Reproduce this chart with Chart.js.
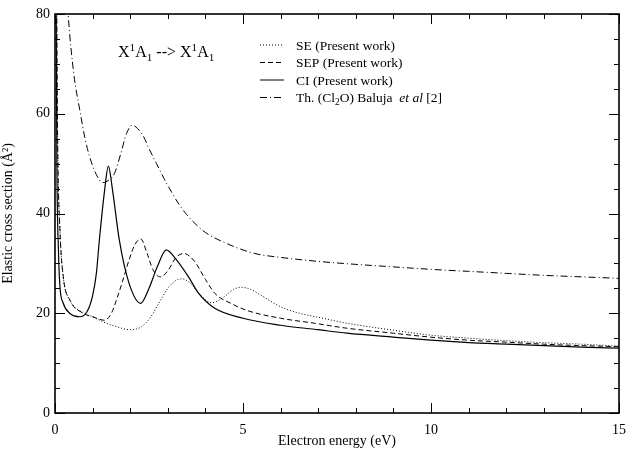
<!DOCTYPE html>
<html>
<head>
<title>Elastic cross section</title>
<script src="https://cdn.jsdelivr.net/npm/chart.js"></script>
<style>
  body { margin: 0; background: #fff; }
  #wrap { width: 635px; height: 451px; }
</style>
</head>
<body>
<div id="wrap"><canvas id="xsec"></canvas></div>
<script>
// values: energy (eV) -> cross section (A^2)
const seE  = [0.03, 0.07, 0.13, 0.22, 0.4, 0.75, 1.0, 1.3, 1.6, 2.0, 2.3, 2.55, 2.76, 3.0, 3.2, 3.38, 3.6, 3.85, 4.17, 4.5, 4.75, 4.95, 5.2, 5.5, 6.0, 6.5, 7, 7.76, 9, 10, 11, 12, 13, 14, 15];
const seY  = [100, 55, 37, 27.3, 22.6, 20.1, 19.3, 18.2, 17.4, 16.7, 17.3, 19.3, 22, 25, 26.5, 26.9, 26.0, 23.8, 22.1, 23.3, 24.8, 25.2, 24.8, 23.5, 21.3, 20.0, 19.2, 18.0, 16.6, 15.6, 15.0, 14.5, 14.1, 13.8, 13.4];

const sepE = [0.03, 0.07, 0.13, 0.22, 0.4, 0.75, 1.0, 1.32, 1.5, 1.65, 1.8, 1.97, 2.12, 2.28, 2.45, 2.6, 2.8, 3.0, 3.2, 3.42, 3.7, 4.0, 4.25, 4.7, 5.13, 6, 6.9, 7.76, 9, 10, 11, 12, 13, 14, 15];
const sepY = [100, 55, 37, 27.3, 22.6, 20, 19.3, 18.6, 20, 23, 26.5, 30.7, 33.7, 34.9, 32, 28.8, 27.3, 28.5, 31, 32, 30.5, 26.8, 24, 21.9, 20.5, 19, 18, 17, 16, 15.2, 14.6, 14.2, 13.8, 13.5, 13.3];

const ciE  = [0.02, 0.05, 0.09, 0.13, 0.22, 0.39, 0.66, 0.85, 1.0, 1.1, 1.18, 1.32, 1.42, 1.53, 1.71, 1.97, 2.28, 2.5, 2.72, 2.96, 3.2, 3.55, 3.82, 4.25, 5, 6, 7, 7.76, 9, 10, 11, 12, 13, 14, 15];
const ciY  = [100, 50, 33, 25.5, 22, 20, 19.3, 20.3, 23.5, 28, 34.7, 44.7, 49.5, 44.7, 34.7, 26, 22, 25, 29.3, 32.7, 31, 27.3, 24, 21, 19, 17.6, 16.7, 16.0, 15.2, 14.6, 14.1, 13.8, 13.5, 13.2, 13.0];

const thE  = [0.28, 0.35, 0.5, 0.66, 0.8, 0.92, 1.1, 1.27, 1.45, 1.58, 1.75, 1.9, 2.06, 2.2, 2.35, 2.5, 2.7, 2.9, 3.1, 3.3, 3.5, 3.75, 4.0, 4.5, 5.3, 6, 7, 8, 9, 10, 11, 12, 13, 14, 15];
const thY  = [90, 80, 68, 60.7, 55, 51.4, 47.8, 46.2, 46.8, 48, 52, 56, 57.7, 57, 55.5, 53, 50, 47, 44.3, 41.8, 39.8, 37.8, 36.2, 34.2, 32, 31.2, 30.4, 29.8, 29.3, 28.8, 28.4, 28.0, 27.6, 27.3, 27.0];

const xTicks = [0, 5, 10, 15];
const yTicks = [0, 20, 40, 60, 80];
const xMinorStep = 1;
const yMinorStep = 5;

const FONT = "'Liberation Serif', 'Times New Roman', serif";
const DOT = [1, 2], DASH = [5, 3], DASHDOT = [7, 3, 1, 3];

function pts(xs, ys) {
    return xs.map((v, i) => ({ x: v, y: ys[i] }));
}

// draw a run of text pieces: [text, kind] with kind n / sup / sub / i
function richText(ctx, x, y, parts, size) {
    parts.forEach(([t, kind]) => {
        let s = size, dy = 0, style = '';
        if (kind === 'sup') { s = size * 0.7; dy = -size * 0.4; }
        if (kind === 'sub') { s = size * 0.7; dy = size * 0.25; }
        if (kind === 'i') style = 'italic ';
        ctx.font = style + s + 'px ' + FONT;
        ctx.fillText(t, x, y + dy);
        x += ctx.measureText(t).width;
    });
}

const legendRows = [
    { dash: DOT, parts: [['SE (Present work)', 'n']] },
    { dash: DASH, parts: [['SEP (Present work)', 'n']] },
    { dash: [], parts: [['CI (Present work)', 'n']] },
    { dash: DASHDOT, parts: [['Th. (Cl', 'n'], ['2', 'sub'], ['O) Baluja  ', 'n'], ['et al', 'i'], [' [2]', 'n']] }
];

const decor = {
    id: 'decor',
    afterDraw(chart) {
        const { ctx, chartArea: a, scales: { x, y } } = chart;
        ctx.save();
        ctx.strokeStyle = '#000';
        ctx.lineWidth = 1;
        ctx.setLineDash([]);
        // inward ticks on all four sides
        ctx.beginPath();
        for (let v = 0; v <= 15; v += xMinorStep) {
            const px = Math.round(x.getPixelForValue(v)) + 0.5;
            const len = xTicks.includes(v) ? 10 : 5;
            ctx.moveTo(px, a.bottom); ctx.lineTo(px, a.bottom - len);
            ctx.moveTo(px, a.top); ctx.lineTo(px, a.top + len);
        }
        for (let v = 0; v <= 80; v += yMinorStep) {
            const py = Math.round(y.getPixelForValue(v)) + 0.5;
            const len = yTicks.includes(v) ? 10 : 5;
            ctx.moveTo(a.left, py); ctx.lineTo(a.left + len, py);
            ctx.moveTo(a.right, py); ctx.lineTo(a.right - len, py);
        }
        ctx.stroke();
        ctx.lineWidth = 1.6;
        ctx.strokeRect(a.left, a.top, a.width, a.height);

        ctx.fillStyle = '#000';
        ctx.textBaseline = 'alphabetic';
        // state label
        richText(ctx, a.left + 63, a.top + 43,
            [['X', 'n'], ['1', 'sup'], ['A', 'n'], ['1', 'sub'], [' --> X', 'n'], ['1', 'sup'], ['A', 'n'], ['1', 'sub']], 16);

        // legend
        legendRows.forEach((r, i) => {
            const cy = a.top + 31 + i * 17.5;
            ctx.lineWidth = 1;
            ctx.setLineDash(r.dash);
            ctx.beginPath();
            ctx.moveTo(260, cy); ctx.lineTo(284, cy);
            ctx.stroke();
            ctx.setLineDash([]);
            richText(ctx, 296, cy + 4.5, r.parts, 13.5);
        });
        ctx.restore();
    }
};

function line(label, xs, ys, dash, width) {
    return {
        label: label,
        data: pts(xs, ys),
        borderColor: '#000',
        borderWidth: width,
        borderDash: dash,
        pointRadius: 0,
        fill: false,
        cubicInterpolationMode: 'monotone'
    };
}

new Chart(document.getElementById('xsec'), {
    type: 'line',
    data: {
        datasets: [
            line('SE (Present work)', seE, seY, DOT, 1),
            line('SEP (Present work)', sepE, sepY, DASH, 1),
            line('CI (Present work)', ciE, ciY, [], 1.2),
            line('Th. (Cl2O) Baluja et al [2]', thE, thY, DASHDOT, 1)
        ]
    },
    options: {
        responsive: true,
        maintainAspectRatio: false,
        animation: false,
        layout: { padding: { top: 14, right: 9, left: 0, bottom: 0 } },
        plugins: { legend: { display: false }, tooltip: { enabled: false } },
        scales: {
            x: {
                type: 'linear',
                min: 0, max: 15,
                afterFit: s => { s.height = 38; },
                afterBuildTicks: s => { s.ticks = xTicks.map(v => ({ value: v })); },
                grid: { drawOnChartArea: false, drawTicks: false },
                border: { display: false },
                ticks: { color: '#000', padding: 9, font: { family: FONT, size: 14 } },
                title: { display: true, text: 'Electron energy (eV)', color: '#000', padding: { top: 0, bottom: 1 }, font: { family: FONT, size: 14 } }
            },
            y: {
                min: 0, max: 80,
                afterFit: s => { s.width = 55; },
                afterBuildTicks: s => { s.ticks = yTicks.map(v => ({ value: v })); },
                grid: { drawOnChartArea: false, drawTicks: false },
                border: { display: false },
                ticks: { color: '#000', padding: 5, font: { family: FONT, size: 14 } },
                title: { display: true, text: 'Elastic cross section (Å²)', color: '#000', padding: { top: 0, bottom: 4 }, font: { family: FONT, size: 14 } }
            }
        }
    },
    plugins: [decor]
});
</script>
</body>
</html>
